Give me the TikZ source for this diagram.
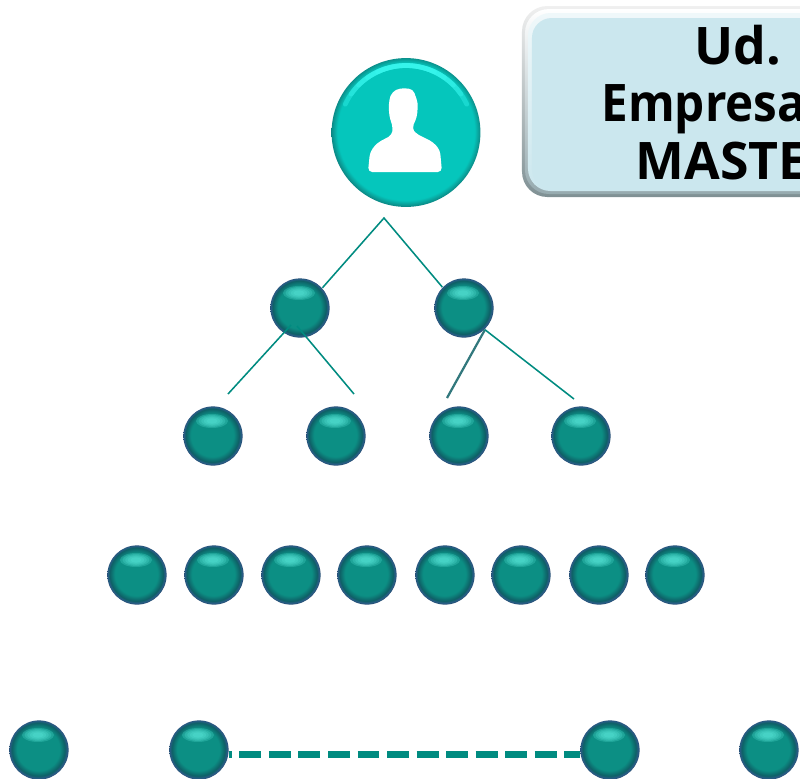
\documentclass[tikz,border=0pt]{standalone}
\usepackage{fontspec}
\setmainfont{Open Sans}
\newfontfamily\boxnarrow[FakeStretch=0.92]{Open Sans}
\definecolor{ballTeal}{HTML}{0C8F84}
\definecolor{ballDark}{HTML}{0E6066}
\definecolor{ballRim}{HTML}{0A2B3A}
\definecolor{ballEdge}{HTML}{2F5C8C}
\definecolor{ballGlow}{HTML}{5CEBDD}
\definecolor{rootTeal}{HTML}{05C6BC}
\definecolor{rootDark}{HTML}{0A9A94}
\definecolor{rootGlow}{HTML}{3DFBF3}
\definecolor{lineTeal}{HTML}{008B80}
\definecolor{boxBlue}{HTML}{CBE7EE}
\definecolor{boxShade}{HTML}{7F9094}
\usetikzlibrary{positioning, calc}
\pgfdeclareradialshading{tealball}{\pgfpoint{-1bp}{1bp}}{%
  color(0bp)=(ballTeal); color(18bp)=(ballTeal); color(22.5bp)=(ballDark);
  color(24.5bp)=(ballEdge); color(26.2bp)=(ballRim); color(50bp)=(ballRim)}
\pgfdeclareradialshading{rootball}{\pgfpoint{0bp}{0.5bp}}{%
  color(0bp)=(rootTeal); color(23bp)=(rootTeal); color(24.5bp)=(rootDark);
  color(26.5bp)=(ballDark); color(50bp)=(ballDark)}

\begin{document}
\begin{tikzpicture}[
  x=0.0125cm, y=-0.0125cm,
  ball/.style={
    circle, minimum size=0.74cm, inner sep=0pt, shading=tealball,
    path picture={
      \foreach \k in {1,...,5}
        \fill[ballGlow, opacity=0.24, shift={(path picture bounding box.center)}, rotate=20]
          (-1,-15) ellipse [x radius={3+2.6*\k}, y radius={1.5+1.1*\k}];
    }
  },
  rootball/.style={
    circle, minimum size=1.86cm, inner sep=0pt, shading=rootball,
    path picture={
      \foreach \a in {25,35,45,55,65}
        \draw[rootGlow, opacity=0.35, line width=1.7pt, line cap=round]
          (path picture bounding box.center) ++({-90-\a}:67)
          arc [start angle={-90-\a}, end angle={-90+\a}, radius=67];
    }
  },
  link/.style={color=lineTeal, line width=0.55pt},
  boxtext/.style={font=\bfseries\fontsize{18.4}{20.6}\selectfont, text=black, inner sep=0pt}
]
  \useasboundingbox (0,0) rectangle (800,779);
  \clip (0,0) rectangle (800,779);

  % company box
  \shade[top color=black!6, middle color=boxBlue, bottom color=boxShade, rounded corners=9pt]
    (522,6) rectangle (960,197);
  \shade[top color=white, middle color=boxBlue, bottom color=boxShade!70!boxBlue, rounded corners=8.5pt]
    (525,9) rectangle (960,194);
  \shade[top color=boxBlue!30, middle color=boxBlue, bottom color=boxBlue, rounded corners=8pt]
    (528,13) rectangle (960,191);
  \fill[boxBlue, rounded corners=7pt] (532,18) rectangle (960,189);
  \node[boxtext] (udtxt) at (738,45) {Ud.};
  \node[boxtext, anchor=base west, font=\boxnarrow\bfseries\fontsize{18.4}{20.6}\selectfont] (emptxt) at (601,121) {Empresa};
  \node[boxtext, anchor=base west] (mastxt) at (635,179) {MASTE};

  % root
  \node[rootball] (root) at (406,132.5) {};
  \fill[white, rounded corners=1.5pt]
    (400,88) -- (413,89) -- (418,103) -- (417,117) -- (412,128) -- (415,133) -- (433,142)
    -- (440,150) -- (442,172) -- (368,172) -- (370,152) -- (377,143) -- (392,135)
    -- (393,128) -- (389,115) -- (389,100) -- (392,92) -- cycle;

  \coordinate (apex) at (384,218);
  \coordinate (b1a) at (291,325);
  \coordinate (b1b) at (297,326);
  \coordinate (c1top) at (228,394);
  \coordinate (c2top) at (354,394);
  \coordinate (c3top) at (447,398);
  \coordinate (c4top) at (574,399);

  % level 1
  \node[ball] (b1) at (300,308) {};
  \node[ball] (b2) at (464,308) {};
  \draw[link] (b1.42) -- (apex) -- (b2.136);

  % level 2
  \foreach \px/\name in {213/c1, 336/c2, 459/c3, 581/c4}
    \node[ball] (\name) at (\px,436) {};

  % level 3
  \foreach \px [count=\i] in {137,214,291,367,445,521,599,675}
    \node[ball] (d\i) at (\px,575) {};

  % level 4
  \foreach \px [count=\i] in {39,199,610,769}
    \node[ball] (e\i) at (\px,750) {};

  \draw[link] (b1a) -- (c1top);
  \draw[link] (b1b) -- (c2top);
  \draw[link, color=ballDark!85, line width=0.8pt] (b2.-46) -- (c3top);
  \draw[link] (b2.-46) -- (c4top);
  \draw[color=lineTeal, line width=2.4pt, dash pattern=on 7.8pt off 2.7pt, dash phase=6.75pt]
    (e2.-8) -- (e3.188);
\end{tikzpicture}
\end{document}
